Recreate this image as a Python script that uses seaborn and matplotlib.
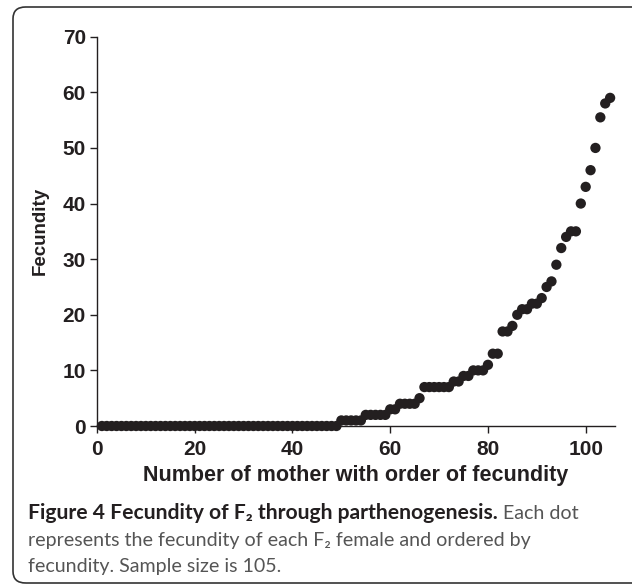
import numpy as np
import pandas as pd
import matplotlib
matplotlib.use("Agg")
import matplotlib.pyplot as plt
from matplotlib.patches import FancyBboxPatch
import seaborn as sns

# ---- data ----
zeros = [0] * 49
ones = [1] * 5
twos = [2] * 5
threes = [3, 3]
fours = [4, 4, 4, 4]
fives = [5]
sevens = [7] * 6
upper = [8, 8, 9, 9, 10, 10, 10, 11, 13, 13, 17, 17, 18, 20, 21, 21, 22, 22,
         23, 25, 26, 29, 32, 34, 35, 35, 40, 43, 46, 50, 55.5, 58, 59]
fecundity = zeros + ones + twos + threes + fours + fives + sevens + upper
order = list(range(1, len(fecundity) + 1))

x_ticks = [0, 20, 40, 60, 80, 100]
y_ticks = [0, 10, 20, 30, 40, 50, 60, 70]
x_label = "Number of mother with order of fecundity"
y_label = "Fecundity"
cap_bold = "Figure 4 Fecundity of F\u2082 through parthenogenesis."
cap_rest1 = " Each dot"
cap_line2 = "represents the fecundity of each F\u2082 female and ordered by"
cap_line3 = "fecundity. Sample size is 105."

df = pd.DataFrame({"order": order, "fecundity": fecundity})

sns.set_style("ticks")
plt.rcParams["font.family"] = ["Liberation Sans", "DejaVu Sans"]

W, H = 632, 585
fig = plt.figure(figsize=(W / 100, H / 100), dpi=100)
ax_l, ax_r, ax_t, ax_b = 97, 615, 36.7, 426
ax = fig.add_axes([ax_l / W, 1 - ax_b / H, (ax_r - ax_l) / W, (ax_b - ax_t) / H])

dark = "#231f20"
sns.scatterplot(data=df, x="order", y="fecundity", ax=ax, color=dark,
                s=55, edgecolor="none", linewidth=0, clip_on=False, zorder=3)

ax.set_xlim(0, 106)
ax.set_ylim(0, 70)
ax.set_xticks(x_ticks)
ax.set_yticks(y_ticks)
for s in ["top", "right"]:
    ax.spines[s].set_visible(False)
for s in ["left", "bottom"]:
    ax.spines[s].set_linewidth(1.0)
    ax.spines[s].set_color(dark)
ax.tick_params(axis="both", direction="out", length=5, width=1.0, color=dark,
               labelsize=15, labelcolor=dark)
ax.tick_params(axis="x", pad=5)
ax.tick_params(axis="y", pad=3)
for lab in ax.get_xticklabels() + ax.get_yticklabels():
    lab.set_fontweight("bold")

ax.set_xlabel(x_label, fontsize=15.5, fontweight="bold", color=dark)
ax.xaxis.set_label_coords(0.5, (ax_b - 481) / (ax_b - ax_t))
ax.xaxis.label.set_va("baseline")
ax.set_ylabel(y_label, fontsize=13.5, fontweight="bold", color=dark)
ax.yaxis.set_label_coords((40 - ax_l) / (ax_r - ax_l), 0.5)
ax.yaxis.label.set_va("center")
ax.yaxis.label.set_ha("center")

# rounded frame (top at 7 px, bottom at 583 px, left at 13 px)
frame = FancyBboxPatch((13 / W, (H - 583) / H), (W + 20 - 13) / W, (583 - 7) / H,
                       boxstyle="round,pad=0,rounding_size=0.02",
                       transform=fig.transFigure, fill=False,
                       edgecolor="#333333", linewidth=1.2, clip_on=False)
fig.patches.append(frame)

# caption
capfam = ["Lato", "DejaVu Sans"]
bold_size = 15.2
reg_size = 14.1
gray = "#555555"
x0 = 28 / W
t1 = fig.text(x0, 1 - 519 / H, cap_bold, fontsize=bold_size, fontweight="bold",
              family=capfam, color=dark, va="baseline")
fig.canvas.draw()
r = fig.canvas.get_renderer()
bb = t1.get_window_extent(renderer=r)
fig.text(bb.x1 / W, 1 - 519 / H, cap_rest1, fontsize=reg_size, family=capfam,
         color=gray, va="baseline")
fig.text(x0, 1 - 546 / H, cap_line2, fontsize=reg_size, family=capfam,
         color=gray, va="baseline")
fig.text(x0, 1 - 572 / H, cap_line3, fontsize=reg_size, family=capfam,
         color=gray, va="baseline")

fig.savefig("out.png", dpi=100)
